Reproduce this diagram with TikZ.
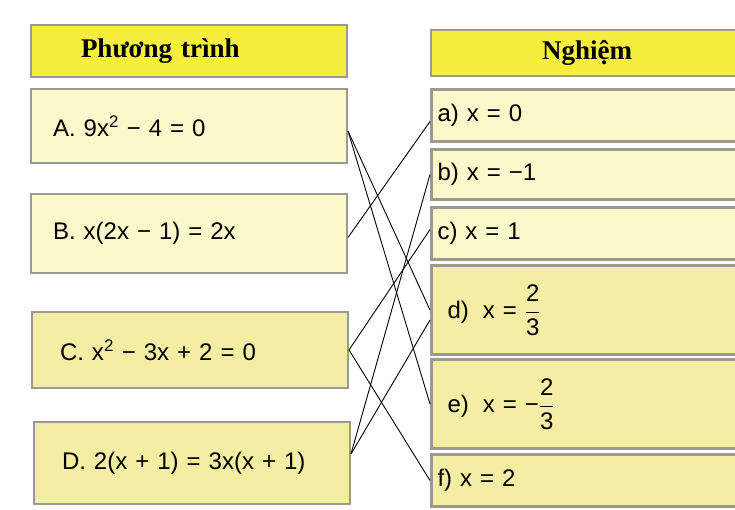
\documentclass[tikz,border=0pt]{standalone}
\usepackage{fontspec}
\setmainfont{Liberation Sans}
\newfontfamily\headfont{Liberation Serif}

\definecolor{hdryellow}{HTML}{F5EE3C}
\definecolor{paleyellow}{HTML}{FBF8CC}
\definecolor{deepyellow}{HTML}{F4EDA4}
\definecolor{edgegray}{HTML}{9C9A8E}

\newcommand{\solfrac}[2]{$\displaystyle\frac{\mbox{#1}}{\mbox{#2}}$}

\tikzset{
  hdr/.style={draw=edgegray, line width=2pt, fill=hdryellow, anchor=north west,
    font=\headfont\bfseries\fontsize{27}{30}\selectfont},
  eqbox/.style={draw=edgegray, line width=2pt, anchor=north west,
    minimum width=316pt, inner xsep=22pt, text width=272pt, align=left,
    font=\fontsize{24}{28}\selectfont},
  solbox/.style={draw=edgegray, line width=3pt, anchor=north west,
    minimum width=312pt, inner xsep=6pt, text width=300pt, align=left,
    font=\fontsize{24}{28}\selectfont},
  link/.style={line width=0.9pt, black}
}

\begin{document}
\begin{tikzpicture}[x=1pt,y=-1pt]
\useasboundingbox (0,0) rectangle (735,510);

% -------------------------------------------------
% Headers
% -------------------------------------------------
\node[hdr, minimum width=316pt, minimum height=52pt, inner xsep=50pt, text width=216pt, align=left] (hdrEq) at (30,24) {Phương trình};
\node[hdr, minimum width=312pt, minimum height=46pt] (hdrSol) at (430,29) {Nghiệm};

% -------------------------------------------------
% Phuong trinh (left)
% -------------------------------------------------
\node[eqbox, fill=paleyellow, minimum height=74pt] (eqA) at (30,88) {A. 9x\textsuperscript{2} − 4 = 0};
\node[eqbox, fill=paleyellow, minimum height=79pt] (eqB) at (30,193) {B. x(2x − 1) = 2x};
\node[eqbox, fill=deepyellow, minimum height=76pt, inner xsep=28pt, text width=260pt] (eqC) at (31,311) {C. x\textsuperscript{2} − 3x + 2 = 0};
\node[eqbox, fill=deepyellow, minimum height=82pt, inner xsep=28pt, text width=260pt] (eqD) at (33,421) {D. 2(x + 1) = 3x(x + 1)};

% -------------------------------------------------
% Nghiem (right)
% -------------------------------------------------
\node[solbox, fill=paleyellow, minimum height=52pt] (solA) at (430,88) {a) x = 0};
\node[solbox, fill=paleyellow, minimum height=50pt] (solB) at (430,148) {b) x = −1};
\node[solbox, fill=paleyellow, minimum height=52pt] (solC) at (430,206) {c) x = 1};
\node[solbox, fill=deepyellow, minimum height=89pt, inner xsep=16pt, text width=280pt] (solD) at (430,264) {d)\hspace{6pt} x = \solfrac{2}{3}};
\node[solbox, fill=deepyellow, minimum height=89pt, inner xsep=16pt, text width=280pt] (solE) at (430,358) {e)\hspace{6pt} x = −\solfrac{2}{3}};
\node[solbox, fill=deepyellow, minimum height=52pt] (solF) at (430,453) {f) x = 2};

% -------------------------------------------------
% Line ends
% -------------------------------------------------
\coordinate (pA) at ([yshift=-5pt]eqA.east);
\coordinate (pB) at ([yshift=-4pt]eqB.east);
\coordinate (pC) at (eqC.east);
\coordinate (pD) at ([yshift=9pt]eqD.east);
\coordinate (qA) at ([yshift=-6pt]solA.west);
\coordinate (qB) at (solB.west);
\coordinate (qC) at ([yshift=4pt]solC.west);
\coordinate (qD) at (solD.west);
\coordinate (qDlow) at ([yshift=-10pt]solD.west);
\coordinate (qE) at (solE.west);
\coordinate (qF) at (solF.west);

% -------------------------------------------------
% Noi (matching)
% -------------------------------------------------
\foreach \from/\to in {pA/qD, pA/qE, pB/qA, pC/qC, pC/qF, pD/qB, pD/qDlow}
  \draw[link] (\from) -- (\to);

\end{tikzpicture}
\end{document}
